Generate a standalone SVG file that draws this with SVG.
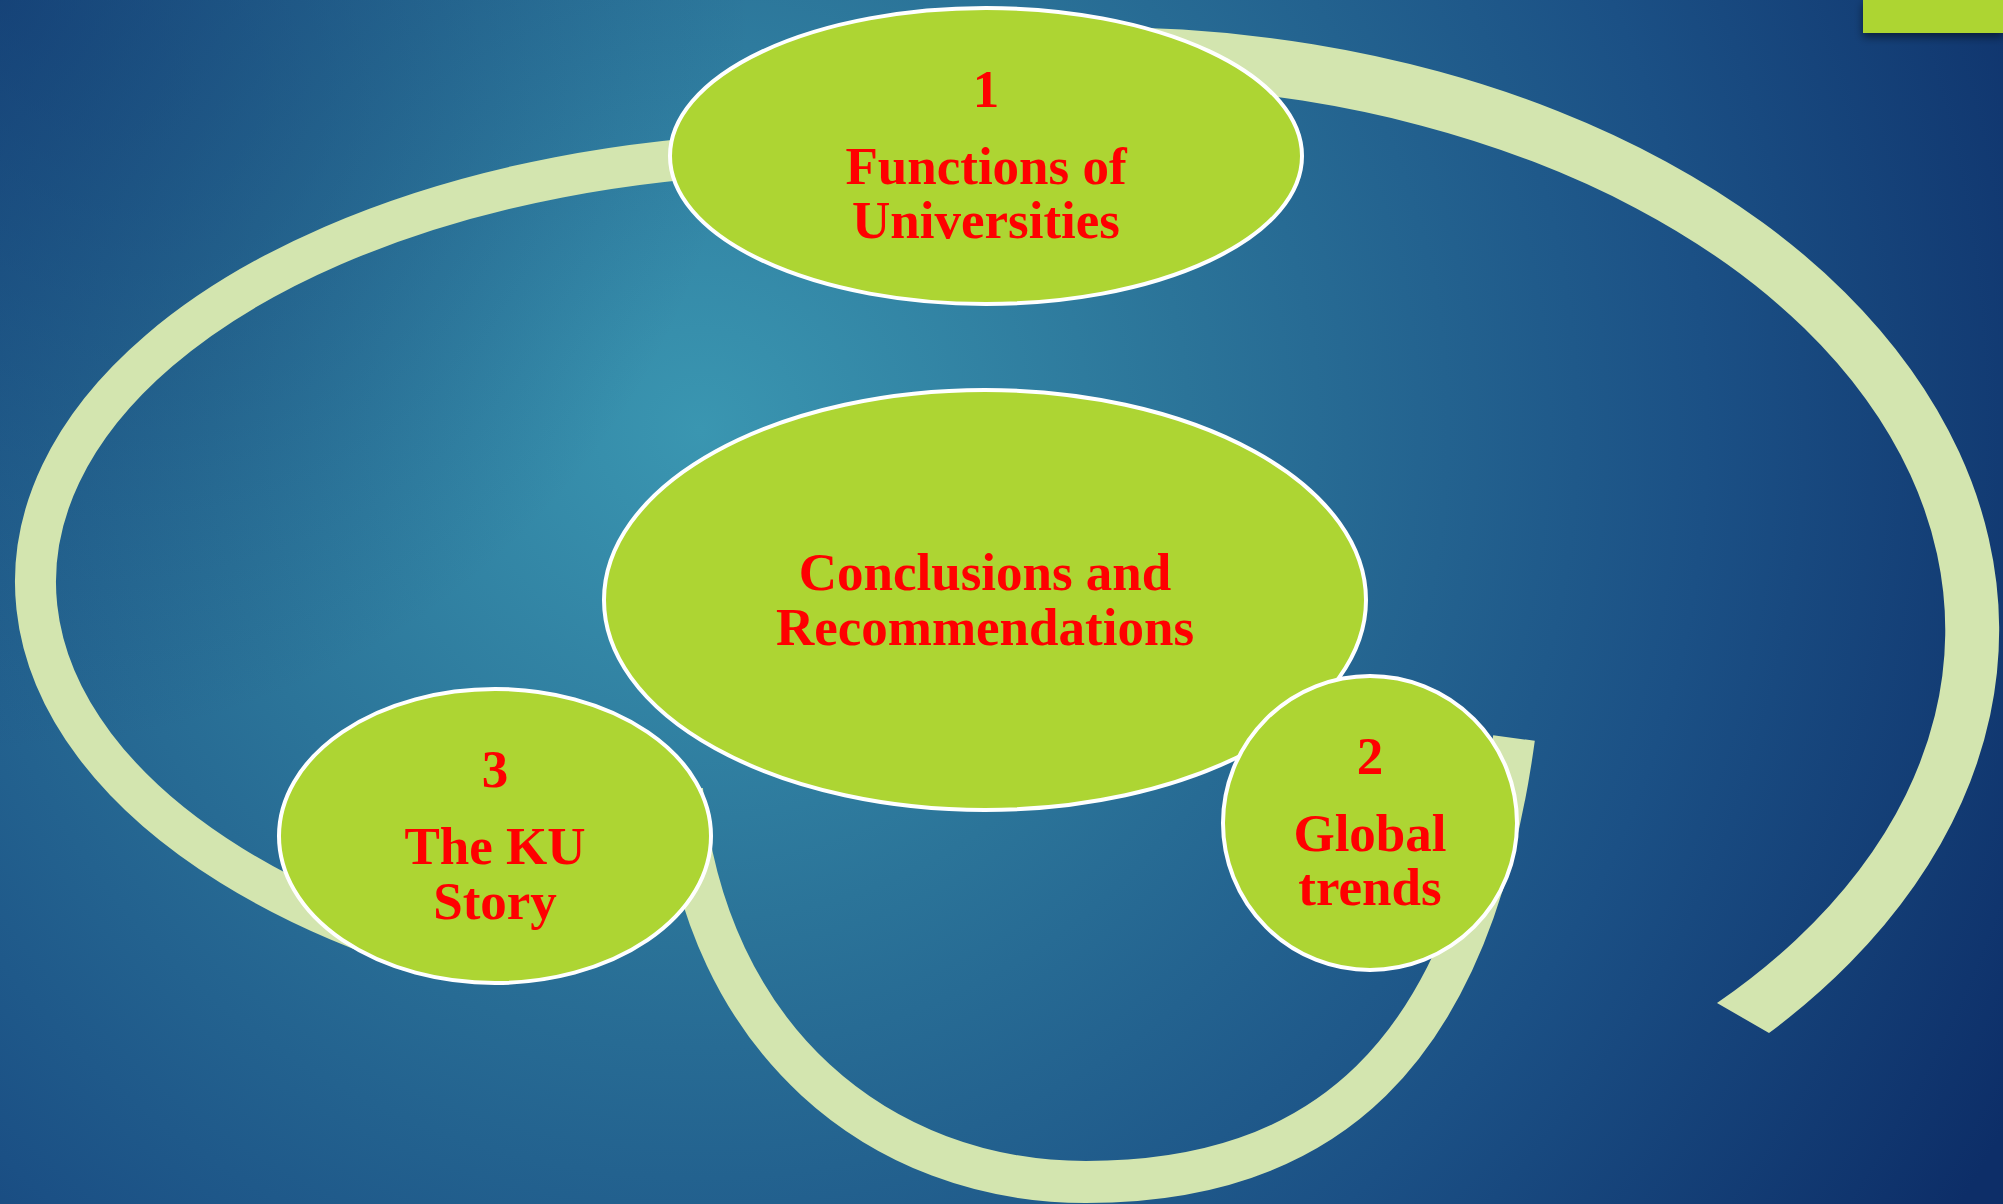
<svg xmlns="http://www.w3.org/2000/svg" width="2003" height="1204" viewBox="0 0 2003 1204">
  <defs>
    <radialGradient id="bg" gradientUnits="userSpaceOnUse" cx="700" cy="430" r="1480">
      <stop offset="0" stop-color="#3A96B1"/>
      <stop offset="0.33" stop-color="#2B7499"/>
      <stop offset="0.68" stop-color="#1B5085"/>
      <stop offset="1" stop-color="#0D2E68"/>
    </radialGradient>
    <radialGradient id="tl" gradientUnits="userSpaceOnUse" cx="0" cy="0" r="750">
      <stop offset="0" stop-color="#0D2E68" stop-opacity="0.55"/>
      <stop offset="1" stop-color="#0D2E68" stop-opacity="0"/>
    </radialGradient>
    <filter id="sh" x="-20%" y="-50%" width="140%" height="220%">
      <feDropShadow dx="0" dy="4" stdDeviation="4" flood-color="#000" flood-opacity="0.5"/>
    </filter>
  </defs>
  <style>
    .arc { fill: #D3E5AF; }
    .arcs { fill: none; stroke: #D3E5AF; stroke-linecap: butt; }
    .node { fill: #ADD533; stroke: #FFFFFF; stroke-width: 4; }
    .lbl { font-family: "Liberation Serif", "Times New Roman", serif; font-weight: bold; font-size: 53px; fill: #FF0000; text-anchor: middle; }
  </style>
  <rect x="0" y="0" width="2003" height="1204" fill="url(#bg)"/>
  <rect x="0" y="0" width="2003" height="1204" fill="url(#tl)"/>
  <rect x="1863" y="0" width="140" height="33" fill="#ADD533" filter="url(#sh)"/>

  <g id="connectors">
    <path class="arc" d="M 1050 28 A 899 603 0 0 1 1769 1033 L 1717 1003 A 843 545 0 0 0 1053 86 Z"/>
    <path class="arcs" stroke-width="41" d="M 800 153 A 784 429 0 0 0 420 951"/>
    <path class="arcs" stroke-width="42" d="M 682 790 C 705 1040, 880 1182, 1086 1182 C 1320 1182, 1470 1060, 1514 738"/>
  </g>

  <g id="node1">
    <ellipse class="node" cx="986" cy="156" rx="316" ry="148"/>
    <text class="lbl" x="986" y="107">1</text>
    <text class="lbl" x="986" y="184">Functions of</text>
    <text class="lbl" x="986" y="238">Universities</text>
  </g>
  <g id="center">
    <ellipse class="node" cx="985" cy="600" rx="381" ry="210"/>
    <text class="lbl" x="985" y="590">Conclusions and</text>
    <text class="lbl" x="985" y="645">Recommendations</text>
  </g>
  <g id="node3">
    <ellipse class="node" cx="495" cy="836" rx="216" ry="147"/>
    <text class="lbl" x="495" y="787">3</text>
    <text class="lbl" x="495" y="864">The KU</text>
    <text class="lbl" x="495" y="919">Story</text>
  </g>
  <g id="node2">
    <ellipse class="node" cx="1370" cy="823" rx="147" ry="147"/>
    <text class="lbl" x="1370" y="774">2</text>
    <text class="lbl" x="1370" y="851">Global</text>
    <text class="lbl" x="1370" y="905">trends</text>
  </g>
</svg>
